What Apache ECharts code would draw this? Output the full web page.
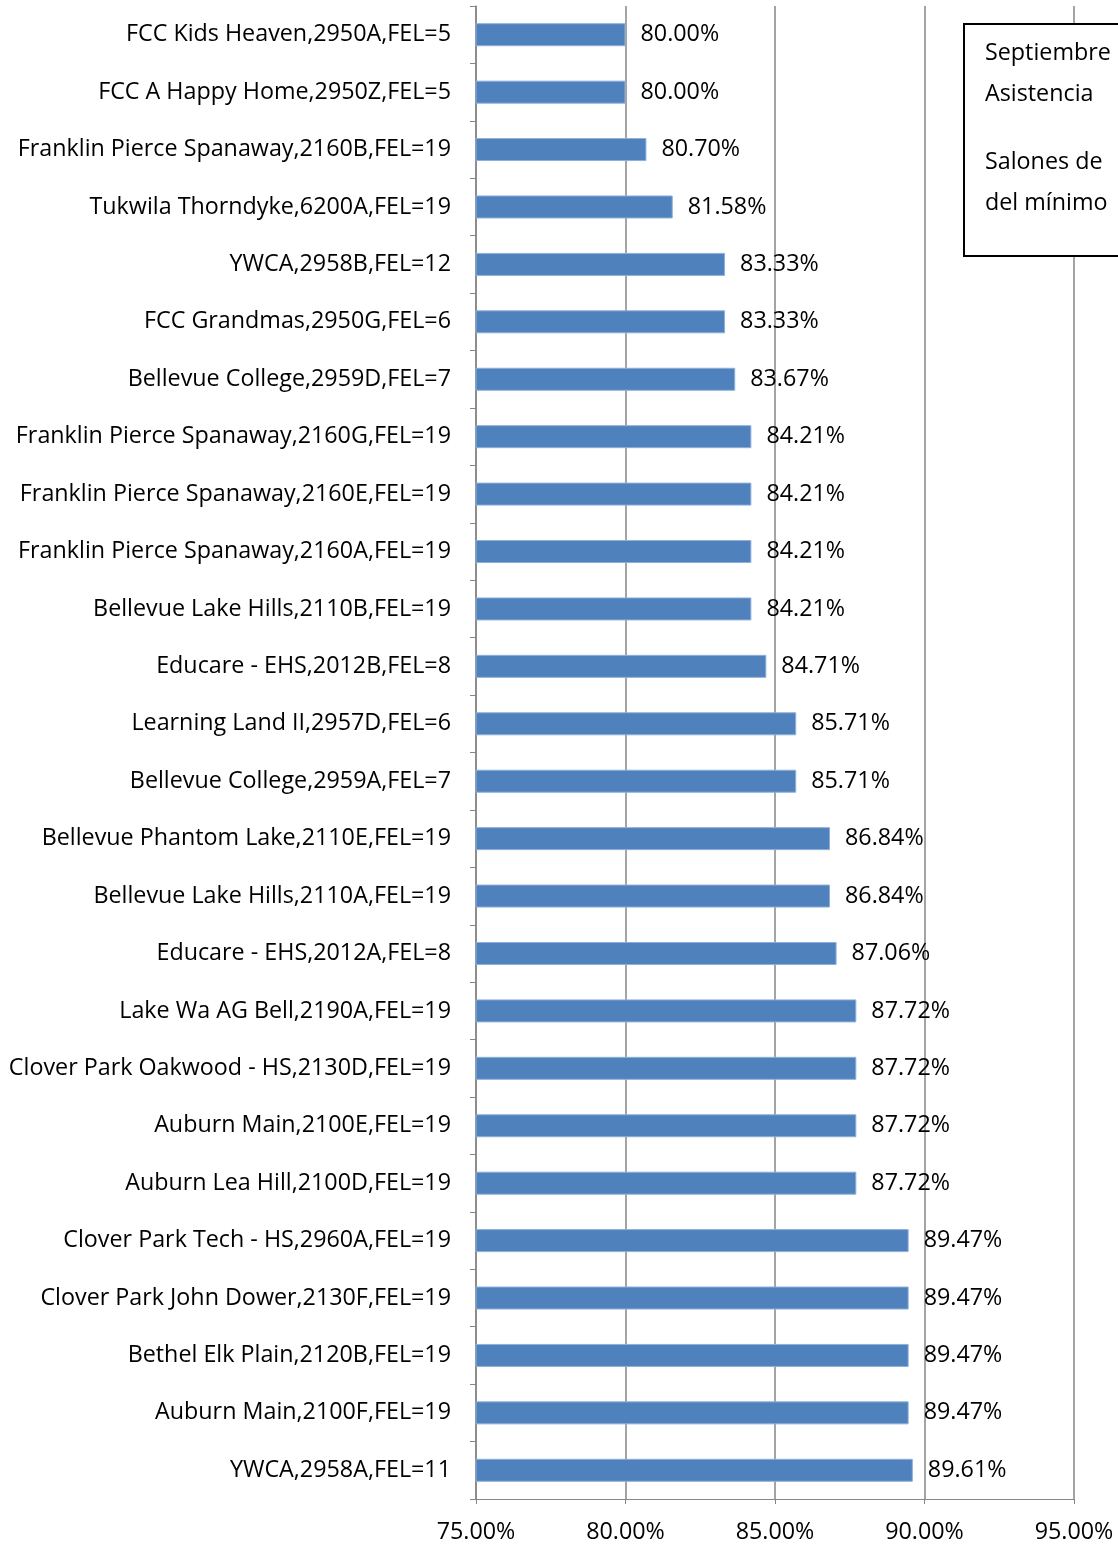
<!DOCTYPE html>
<html><head><meta charset="utf-8">
<script src="https://cdn.jsdelivr.net/npm/echarts@6/dist/echarts.min.js"></script>
<style>html,body{margin:0;padding:0;background:#fff}#c{width:1118px;height:1545px}</style>
</head><body><div id="c"></div>
<script>
const categories = [
"FCC Kids Heaven,2950A,FEL=5",
"FCC A Happy Home,2950Z,FEL=5",
"Franklin Pierce Spanaway,2160B,FEL=19",
"Tukwila Thorndyke,6200A,FEL=19",
"YWCA,2958B,FEL=12",
"FCC Grandmas,2950G,FEL=6",
"Bellevue College,2959D,FEL=7",
"Franklin Pierce Spanaway,2160G,FEL=19",
"Franklin Pierce Spanaway,2160E,FEL=19",
"Franklin Pierce Spanaway,2160A,FEL=19",
"Bellevue Lake Hills,2110B,FEL=19",
"Educare - EHS,2012B,FEL=8",
"Learning Land II,2957D,FEL=6",
"Bellevue College,2959A,FEL=7",
"Bellevue Phantom Lake,2110E,FEL=19",
"Bellevue Lake Hills,2110A,FEL=19",
"Educare - EHS,2012A,FEL=8",
"Lake Wa AG Bell,2190A,FEL=19",
"Clover Park Oakwood - HS,2130D,FEL=19",
"Auburn Main,2100E,FEL=19",
"Auburn Lea Hill,2100D,FEL=19",
"Clover Park Tech - HS,2960A,FEL=19",
"Clover Park John Dower,2130F,FEL=19",
"Bethel Elk Plain,2120B,FEL=19",
"Auburn Main,2100F,FEL=19",
"YWCA,2958A,FEL=11"
];
const attendance = [80.00,80.00,80.70,81.58,83.33,83.33,83.67,84.21,84.21,84.21,84.21,84.71,85.71,85.71,86.84,86.84,87.06,87.72,87.72,87.72,87.72,89.47,89.47,89.47,89.47,89.61];
const xTicks = [75,80,85,90,95];
const noteParagraph1 = ["Septiembre","Asistencia"];
const noteParagraph2 = ["Salones de","del mínimo"];

const FONT = '"Open Sans"';
const FS = 23.3;
const chart = echarts.init(document.getElementById('c'));
chart.setOption({
  animation:false,
  grid:{left:476,right:44,top:6,bottom:46,containLabel:false},
  xAxis:{type:'value',min:xTicks[0],max:xTicks[xTicks.length-1],interval:5,
    axisLine:{show:true,lineStyle:{color:'#868686',width:1}},
    axisTick:{show:true,length:5,lineStyle:{color:'#868686'}},
    axisLabel:{margin:22,color:'#000',fontFamily:FONT,fontSize:FS,formatter:v=>v.toFixed(2)+'%'},
    splitLine:{show:true,lineStyle:{color:'#868686',width:1.5}}},
  yAxis:{type:'category',data:categories,inverse:true,
    axisLine:{show:true,lineStyle:{color:'#868686',width:1.5}},
    axisTick:{show:true,length:6,lineStyle:{color:'#868686'}},
    axisLabel:{margin:25,color:'#000',fontFamily:FONT,fontSize:FS}},
  series:[{type:'bar',data:attendance,barWidth:23,
    itemStyle:{color:'#4F81BD',borderColor:'#8fb0d8',borderWidth:1},
    label:{show:true,position:'right',distance:15,color:'#000',fontFamily:FONT,fontSize:FS,
      formatter:p=>p.value.toFixed(2)+'%'}}],
  graphic:[{type:'group',left:963,top:23,z:100,children:[
    {type:'rect',z:100,shape:{x:0,y:0,width:200,height:232},style:{fill:'#fff',stroke:'#000',lineWidth:2}},
    {type:'text',z:101,x:21,y:9,style:{text:noteParagraph1.join('\n'),font:FS+'px '+FONT,lineHeight:41,fill:'#000'}},
    {type:'text',z:101,x:21,y:118,style:{text:noteParagraph2.join('\n'),font:FS+'px '+FONT,lineHeight:41,fill:'#000'}}
  ]}]
});
</script></body></html>
